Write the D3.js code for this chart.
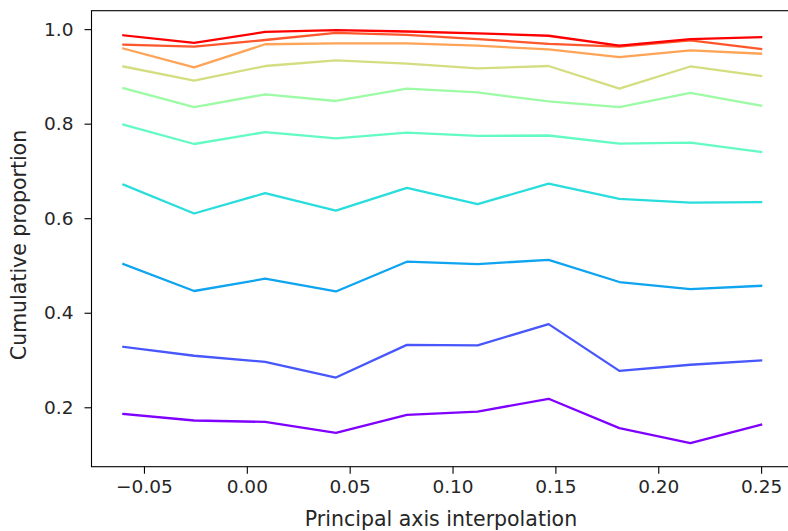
<!DOCTYPE html>
<html>
<head>
<meta charset="utf-8">
<script src="https://cdn.jsdelivr.net/npm/d3@7"></script>
<style>
  body { margin: 0; background: #fff; }
  svg { display: block; font-family: "DejaVu Sans", sans-serif; }
</style>
</head>
<body>
<svg id="chart" width="788" height="531"></svg>
<script>
// x positions of the samples
var xs = [-0.06, -0.0256, 0.0089, 0.0433, 0.0778, 0.1122, 0.1467, 0.1811, 0.2156, 0.25];

// one cumulative curve per level, bottom (purple) to top (red)
var level0 = [0.186, 0.172, 0.169, 0.146, 0.184, 0.191, 0.218, 0.156, 0.124, 0.163];
var level1 = [0.328, 0.309, 0.296, 0.263, 0.332, 0.331, 0.376, 0.277, 0.290, 0.299];
var level2 = [0.503, 0.446, 0.472, 0.445, 0.508, 0.503, 0.512, 0.465, 0.450, 0.457];
var level3 = [0.671, 0.610, 0.653, 0.616, 0.664, 0.630, 0.673, 0.641, 0.633, 0.634];
var level4 = [0.798, 0.757, 0.782, 0.769, 0.781, 0.774, 0.775, 0.758, 0.760, 0.740];
var level5 = [0.875, 0.835, 0.862, 0.848, 0.874, 0.866, 0.847, 0.835, 0.865, 0.838];
var level6 = [0.921, 0.891, 0.922, 0.934, 0.927, 0.917, 0.922, 0.874, 0.921, 0.901];
var level7 = [0.959, 0.919, 0.968, 0.970, 0.970, 0.965, 0.957, 0.941, 0.955, 0.948];
var level8 = [0.967, 0.963, 0.977, 0.992, 0.988, 0.979, 0.969, 0.963, 0.976, 0.958];
var level9 = [0.987, 0.971, 0.994, 0.998, 0.995, 0.991, 0.986, 0.965, 0.979, 0.983];
var levels = [level0, level1, level2, level3, level4, level5, level6, level7, level8, level9];

var xTicks = [-0.05, 0.00, 0.05, 0.10, 0.15, 0.20, 0.25];
var yTicks = [0.2, 0.4, 0.6, 0.8, 1.0];

(function () {
  var svg = d3.select("#chart"),
      x0 = 91.5, x1 = 793, y0 = 10.7, y1 = 466.7;

  var x = d3.scaleLinear().domain([-0.0755, 0.2655]).range([x0, x1]);
  var y = d3.scaleLinear().domain([0.0743, 1.039]).range([y1, y0]);

  // matplotlib "rainbow" colormap
  function rainbow(t) {
    var r = Math.min(1, Math.abs(2 * t - 0.5)),
        g = Math.sin(Math.PI * t),
        b = Math.cos(Math.PI / 2 * t);
    return d3.rgb(r * 255, g * 255, Math.max(0, b) * 255).toString();
  }

  var line = d3.line()
    .x(function(d, i) { return x(xs[i]); })
    .y(function(d) { return y(d); });

  svg.append("defs").append("clipPath").attr("id", "plot")
    .append("rect").attr("x", x0).attr("y", y0)
    .attr("width", x1 - x0).attr("height", y1 - y0);

  svg.append("g").attr("clip-path", "url(#plot)")
    .selectAll("path")
    .data(levels)
    .enter().append("path")
      .attr("d", line)
      .attr("fill", "none")
      .attr("stroke", function(d, i) { return rainbow(i / (levels.length - 1)); })
      .attr("stroke-width", 2.3)
      .attr("stroke-linejoin", "round")
      .attr("stroke-linecap", "square");

  // axes
  var xAxis = d3.axisBottom(x).tickValues(xTicks).tickSize(7).tickPadding(6)
    .tickFormat(function(d) { return d3.format(".2f")(d).replace("-", "\u2212"); });
  var yAxis = d3.axisLeft(y).tickValues(yTicks).tickSize(7).tickPadding(11)
    .tickFormat(d3.format(".1f"));

  var gx = svg.append("g").attr("transform", "translate(0," + y1 + ")").call(xAxis);
  var gy = svg.append("g").attr("transform", "translate(" + x0 + ",0)").call(yAxis);

  [gx, gy].forEach(function(g) {
    g.select(".domain").remove();
    g.selectAll(".tick line").attr("stroke", "#000").attr("stroke-width", 1.1);
    g.selectAll(".tick text").attr("fill", "#262626").style("font-size", "18.5px")
      .style("font-family", "DejaVu Sans");
  });

  // frame
  svg.append("rect")
    .attr("x", x0).attr("y", y0)
    .attr("width", x1 - x0).attr("height", y1 - y0)
    .attr("fill", "none").attr("stroke", "#000").attr("stroke-width", 1.1);

  svg.append("text")
    .attr("x", 441).attr("y", 526)
    .attr("text-anchor", "middle")
    .attr("fill", "#262626")
    .style("font-size", "20.5px")
    .text("Principal axis interpolation");

  svg.append("text")
    .attr("transform", "translate(26,245) rotate(-90)")
    .attr("text-anchor", "middle")
    .attr("fill", "#262626")
    .style("font-size", "20.5px")
    .text("Cumulative proportion");
})();
</script>
</body>
</html>
